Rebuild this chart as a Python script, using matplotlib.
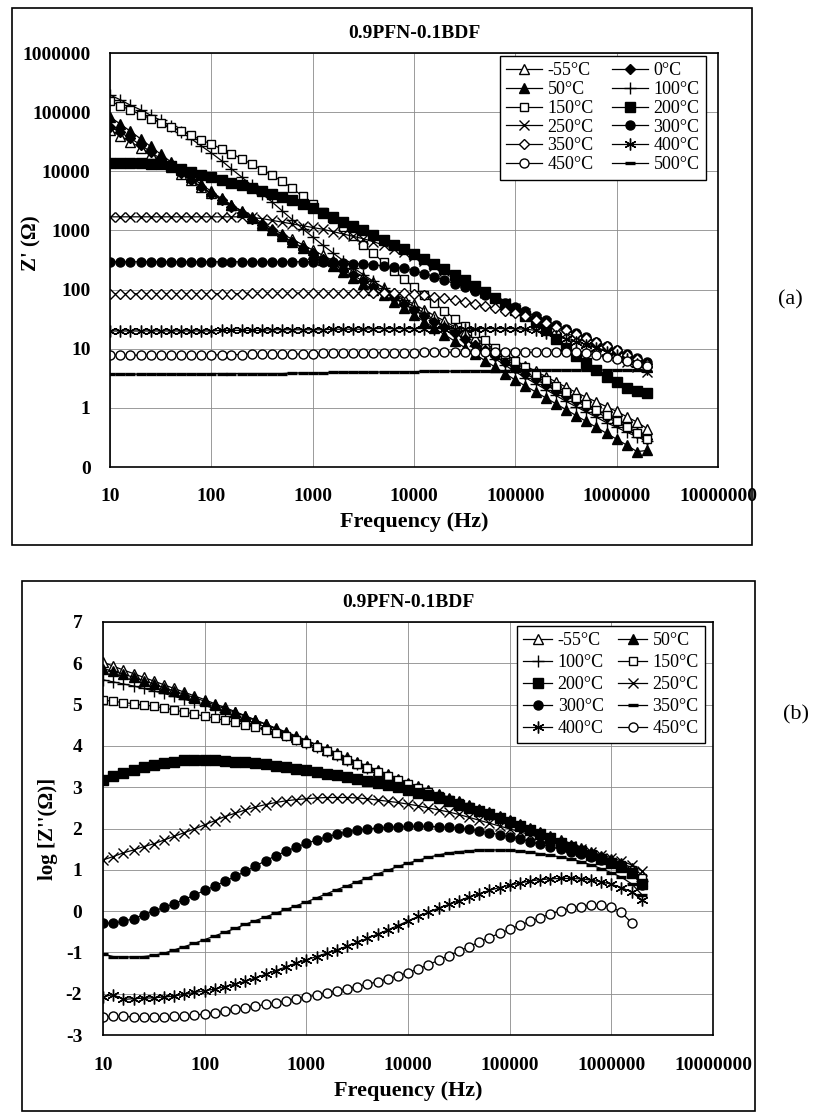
import numpy as np
import matplotlib
matplotlib.use("Agg")
import matplotlib.pyplot as plt
from matplotlib.patches import Rectangle
from matplotlib.ticker import NullLocator

plt.rcParams['font.family'] = ['Liberation Serif', 'DejaVu Serif']
plt.rcParams['axes.unicode_minus'] = False

# measurement frequencies (Hz)
freq_hz = [10, 12.6, 15.8, 20, 25.1, 31.6, 39.8, 50.1, 63.1, 79.4,
           100, 126, 158, 200, 251, 316, 398, 501, 631, 794,
           1000, 1259, 1585, 1995, 2512, 3162, 3981, 5012, 6310, 7943,
           10000, 12589, 15849, 19953, 25119, 31623, 39811, 50119, 63096, 79433,
           100000, 125893, 158489, 199526, 251189, 316228, 398107, 501187, 630957, 794328,
           1000000, 1258925, 1584893, 1995262]

# (a) log10 Z' (ohm)
re_m55 = [4.70, 4.60, 4.50, 4.40, 4.29, 4.18, 4.07, 3.96, 3.85, 3.74,
          3.63, 3.53, 3.43, 3.33, 3.23, 3.13, 3.03, 2.94, 2.85, 2.76,
          2.67, 2.58, 2.49, 2.40, 2.31, 2.22, 2.12, 2.03, 1.94, 1.85,
          1.75, 1.66, 1.56, 1.47, 1.37, 1.28, 1.18, 1.09, 0.99, 0.90,
          0.80, 0.71, 0.62, 0.53, 0.44, 0.35, 0.26, 0.18, 0.10, 0.02,
          -0.06, -0.15, -0.24, -0.35]
re_0 = [4.75, 4.66, 4.56, 4.45, 4.33, 4.21, 4.09, 3.97, 3.85, 3.73,
        3.62, 3.51, 3.40, 3.30, 3.20, 3.10, 3.00, 2.90, 2.81, 2.71,
        2.62, 2.52, 2.43, 2.33, 2.24, 2.14, 2.05, 1.95, 1.86, 1.76,
        1.66, 1.56, 1.46, 1.37, 1.27, 1.17, 1.07, 0.97, 0.87, 0.78,
        0.68, 0.58, 0.48, 0.39, 0.29, 0.20, 0.11, 0.02, -0.07, -0.16,
        -0.24, -0.33, -0.43, -0.52]
re_50 = [4.92, 4.80, 4.68, 4.55, 4.42, 4.29, 4.16, 4.03, 3.90, 3.78,
         3.66, 3.54, 3.43, 3.32, 3.21, 3.10, 3.00, 2.90, 2.80, 2.70,
         2.60, 2.50, 2.40, 2.30, 2.20, 2.10, 2.00, 1.90, 1.79, 1.68,
         1.57, 1.46, 1.35, 1.24, 1.13, 1.02, 0.91, 0.80, 0.69, 0.58,
         0.47, 0.37, 0.27, 0.17, 0.07, -0.03, -0.13, -0.23, -0.33, -0.43,
         -0.53, -0.63, -0.74, -0.72]
re_100 = [5.29, 5.21, 5.12, 5.04, 4.95, 4.86, 4.77, 4.67, 4.55, 4.43,
          4.31, 4.18, 4.04, 3.90, 3.76, 3.62, 3.48, 3.33, 3.18, 3.03,
          2.89, 2.75, 2.62, 2.49, 2.37, 2.25, 2.14, 2.03, 1.92, 1.82,
          1.71, 1.60, 1.49, 1.38, 1.27, 1.16, 1.05, 0.94, 0.83, 0.72,
          0.61, 0.51, 0.41, 0.31, 0.21, 0.11, 0.02, -0.07, -0.16, -0.25,
          -0.33, -0.41, -0.49, -0.56]
re_150 = [5.19, 5.11, 5.04, 4.96, 4.89, 4.82, 4.75, 4.68, 4.61, 4.53,
          4.46, 4.38, 4.30, 4.21, 4.12, 4.03, 3.93, 3.83, 3.71, 3.58,
          3.45, 3.32, 3.19, 3.05, 2.91, 2.76, 2.61, 2.46, 2.32, 2.18,
          2.04, 1.90, 1.77, 1.64, 1.51, 1.38, 1.26, 1.14, 1.02, 0.91,
          0.80, 0.69, 0.58, 0.47, 0.37, 0.27, 0.17, 0.07, -0.03, -0.12,
          -0.22, -0.32, -0.42, -0.52]
re_200 = [4.14, 4.14, 4.14, 4.14, 4.13, 4.12, 4.09, 4.04, 3.99, 3.94,
          3.90, 3.86, 3.81, 3.77, 3.72, 3.67, 3.62, 3.57, 3.52, 3.45,
          3.38, 3.30, 3.22, 3.15, 3.07, 3.00, 2.92, 2.84, 2.76, 2.68,
          2.60, 2.52, 2.43, 2.34, 2.25, 2.16, 2.06, 1.96, 1.86, 1.76,
          1.66, 1.56, 1.45, 1.31, 1.17, 1.02, 0.88, 0.76, 0.64, 0.53,
          0.43, 0.34, 0.28, 0.25]
re_250 = [3.23, 3.23, 3.23, 3.23, 3.23, 3.23, 3.23, 3.23, 3.23, 3.23,
          3.23, 3.23, 3.23, 3.23, 3.22, 3.20, 3.17, 3.14, 3.11, 3.08,
          3.05, 3.02, 2.98, 2.94, 2.90, 2.86, 2.81, 2.75, 2.69, 2.63,
          2.56, 2.48, 2.40, 2.31, 2.22, 2.13, 2.04, 1.95, 1.86, 1.77,
          1.68, 1.60, 1.51, 1.43, 1.35, 1.27, 1.19, 1.11, 1.03, 0.95,
          0.87, 0.78, 0.69, 0.60]
re_300 = [2.47, 2.47, 2.47, 2.47, 2.47, 2.47, 2.47, 2.47, 2.47, 2.47,
          2.47, 2.47, 2.47, 2.47, 2.47, 2.47, 2.47, 2.47, 2.47, 2.47,
          2.47, 2.46, 2.46, 2.45, 2.44, 2.43, 2.42, 2.40, 2.38, 2.36,
          2.32, 2.27, 2.22, 2.16, 2.10, 2.04, 1.97, 1.91, 1.84, 1.77,
          1.70, 1.63, 1.55, 1.48, 1.40, 1.33, 1.26, 1.19, 1.12, 1.05,
          0.98, 0.91, 0.84, 0.77]
re_350 = [1.93, 1.93, 1.93, 1.93, 1.93, 1.93, 1.93, 1.93, 1.93, 1.93,
          1.93, 1.93, 1.93, 1.93, 1.94, 1.94, 1.94, 1.94, 1.94, 1.94,
          1.94, 1.94, 1.94, 1.94, 1.95, 1.95, 1.95, 1.95, 1.95, 1.94,
          1.92, 1.90, 1.88, 1.85, 1.82, 1.79, 1.76, 1.72, 1.68, 1.64,
          1.60, 1.55, 1.49, 1.43, 1.37, 1.31, 1.25, 1.18, 1.11, 1.04,
          0.97, 0.90, 0.82, 0.74]
re_400 = [1.30, 1.30, 1.30, 1.30, 1.30, 1.30, 1.30, 1.30, 1.30, 1.30,
          1.30, 1.31, 1.31, 1.31, 1.31, 1.31, 1.32, 1.32, 1.32, 1.32,
          1.32, 1.32, 1.33, 1.33, 1.33, 1.33, 1.34, 1.34, 1.34, 1.34,
          1.34, 1.34, 1.34, 1.34, 1.34, 1.34, 1.34, 1.34, 1.34, 1.34,
          1.34, 1.33, 1.31, 1.27, 1.22, 1.17, 1.12, 1.07, 1.01, 0.95,
          0.89, 0.82, 0.74, 0.66]
re_450 = [0.89, 0.89, 0.89, 0.89, 0.89, 0.89, 0.89, 0.89, 0.89, 0.89,
          0.89, 0.90, 0.90, 0.90, 0.91, 0.91, 0.91, 0.91, 0.91, 0.91,
          0.91, 0.92, 0.92, 0.92, 0.92, 0.92, 0.93, 0.93, 0.93, 0.93,
          0.93, 0.94, 0.94, 0.94, 0.94, 0.94, 0.94, 0.94, 0.94, 0.94,
          0.94, 0.94, 0.94, 0.94, 0.94, 0.94, 0.94, 0.92, 0.89, 0.86,
          0.83, 0.79, 0.75, 0.70]
re_500 = [0.57, 0.57, 0.57, 0.57, 0.57, 0.57, 0.57, 0.57, 0.57, 0.57,
          0.58, 0.58, 0.58, 0.58, 0.58, 0.58, 0.58, 0.58, 0.59, 0.59,
          0.59, 0.59, 0.60, 0.60, 0.60, 0.60, 0.60, 0.61, 0.61, 0.61,
          0.61, 0.62, 0.62, 0.62, 0.62, 0.63, 0.63, 0.63, 0.63, 0.63,
          0.64, 0.64, 0.64, 0.64, 0.64, 0.64, 0.64, 0.64, 0.64, 0.64,
          0.64, 0.64, 0.64, 0.63]

# (b) log |Z''|
im_m55 = [6.03, 5.93, 5.84, 5.75, 5.66, 5.57, 5.48, 5.39, 5.30, 5.21,
          5.12, 5.02, 4.93, 4.83, 4.73, 4.63, 4.53, 4.43, 4.34, 4.24,
          4.14, 4.03, 3.93, 3.83, 3.72, 3.61, 3.51, 3.41, 3.31, 3.21,
          3.11, 3.02, 2.93, 2.84, 2.75, 2.66, 2.57, 2.48, 2.39, 2.30,
          2.21, 2.11, 2.01, 1.91, 1.81, 1.71, 1.61, 1.52, 1.43, 1.34,
          1.25, 1.16, 1.05, 0.88]
im_50 = [5.87, 5.81, 5.74, 5.66, 5.58, 5.50, 5.41, 5.33, 5.25, 5.17,
         5.08, 4.99, 4.90, 4.81, 4.72, 4.62, 4.52, 4.42, 4.32, 4.22,
         4.12, 4.02, 3.91, 3.80, 3.69, 3.58, 3.48, 3.38, 3.28, 3.18,
         3.08, 2.99, 2.90, 2.81, 2.72, 2.63, 2.54, 2.45, 2.36, 2.27,
         2.18, 2.08, 1.98, 1.88, 1.78, 1.68, 1.58, 1.48, 1.39, 1.30,
         1.21, 1.11, 0.99, 0.72]
im_100 = [5.60, 5.55, 5.50, 5.45, 5.39, 5.33, 5.27, 5.20, 5.13, 5.06,
          4.98, 4.90, 4.82, 4.73, 4.64, 4.55, 4.46, 4.37, 4.27, 4.17,
          4.07, 3.97, 3.87, 3.77, 3.66, 3.56, 3.46, 3.36, 3.26, 3.16,
          3.06, 2.96, 2.87, 2.78, 2.69, 2.60, 2.51, 2.42, 2.33, 2.24,
          2.15, 2.05, 1.95, 1.85, 1.75, 1.65, 1.55, 1.46, 1.37, 1.28,
          1.19, 1.09, 0.96, 0.74]
im_150 = [5.11, 5.08, 5.05, 5.02, 4.99, 4.96, 4.92, 4.87, 4.82, 4.77,
          4.72, 4.67, 4.62, 4.57, 4.51, 4.45, 4.38, 4.31, 4.23, 4.15,
          4.06, 3.97, 3.87, 3.77, 3.67, 3.57, 3.47, 3.37, 3.27, 3.17,
          3.07, 2.97, 2.88, 2.79, 2.70, 2.61, 2.52, 2.43, 2.34, 2.25,
          2.16, 2.06, 1.96, 1.86, 1.76, 1.66, 1.56, 1.47, 1.38, 1.29,
          1.20, 1.11, 0.99, 0.80]
im_200 = [3.17, 3.26, 3.34, 3.42, 3.49, 3.54, 3.58, 3.62, 3.65, 3.66,
          3.66, 3.65, 3.63, 3.62, 3.60, 3.58, 3.55, 3.52, 3.49, 3.45,
          3.41, 3.37, 3.33, 3.29, 3.25, 3.21, 3.16, 3.11, 3.06, 3.00,
          2.94, 2.87, 2.80, 2.73, 2.66, 2.58, 2.50, 2.42, 2.34, 2.25,
          2.16, 2.06, 1.96, 1.86, 1.76, 1.66, 1.56, 1.46, 1.37, 1.27,
          1.17, 1.06, 0.92, 0.65]
im_250 = [1.24, 1.32, 1.41, 1.48, 1.56, 1.63, 1.72, 1.81, 1.90, 1.99,
          2.09, 2.19, 2.29, 2.37, 2.45, 2.52, 2.58, 2.63, 2.67, 2.70,
          2.72, 2.74, 2.75, 2.75, 2.75, 2.74, 2.72, 2.69, 2.66, 2.63,
          2.59, 2.55, 2.50, 2.45, 2.40, 2.34, 2.27, 2.20, 2.13, 2.06,
          1.99, 1.92, 1.85, 1.78, 1.71, 1.64, 1.57, 1.50, 1.43, 1.36,
          1.29, 1.21, 1.12, 0.98]
im_300 = [-0.29, -0.29, -0.25, -0.18, -0.09, 0.00, 0.09, 0.18, 0.28, 0.39,
          0.50, 0.61, 0.72, 0.84, 0.96, 1.09, 1.22, 1.34, 1.45, 1.55,
          1.64, 1.72, 1.80, 1.86, 1.92, 1.96, 1.99, 2.01, 2.03, 2.04,
          2.05, 2.05, 2.05, 2.04, 2.03, 2.01, 1.98, 1.94, 1.90, 1.85,
          1.80, 1.74, 1.68, 1.62, 1.56, 1.50, 1.44, 1.38, 1.31, 1.24,
          1.16, 1.06, 0.92, 0.64]
im_350 = [-1.04, -1.10, -1.11, -1.11, -1.10, -1.07, -1.02, -0.94, -0.86, -0.78,
          -0.69, -0.60, -0.51, -0.42, -0.32, -0.23, -0.14, -0.05, 0.04, 0.13,
          0.22, 0.32, 0.42, 0.52, 0.61, 0.71, 0.80, 0.90, 0.99, 1.08,
          1.16, 1.23, 1.30, 1.36, 1.41, 1.44, 1.46, 1.48, 1.48, 1.48,
          1.47, 1.45, 1.42, 1.39, 1.35, 1.31, 1.26, 1.20, 1.12, 1.03,
          0.93, 0.82, 0.66, 0.40]
im_400 = [-2.08, -2.02, -2.14, -2.12, -2.11, -2.10, -2.08, -2.06, -2.01, -1.97,
          -1.93, -1.89, -1.83, -1.77, -1.70, -1.62, -1.53, -1.44, -1.35, -1.26,
          -1.18, -1.10, -1.02, -0.94, -0.85, -0.76, -0.66, -0.56, -0.46, -0.35,
          -0.24, -0.13, -0.03, 0.07, 0.16, 0.25, 0.34, 0.42, 0.50, 0.57,
          0.63, 0.68, 0.73, 0.76, 0.78, 0.79, 0.79, 0.78, 0.75, 0.71,
          0.65, 0.57, 0.46, 0.27]
im_450 = [-2.56, -2.55, -2.55, -2.56, -2.56, -2.56, -2.56, -2.55, -2.54, -2.52,
          -2.49, -2.46, -2.42, -2.38, -2.34, -2.30, -2.26, -2.22, -2.17, -2.12,
          -2.08, -2.03, -1.98, -1.93, -1.88, -1.83, -1.77, -1.71, -1.64, -1.57,
          -1.49, -1.40, -1.30, -1.19, -1.08, -0.97, -0.86, -0.75, -0.64, -0.54,
          -0.44, -0.34, -0.25, -0.16, -0.07, 0.01, 0.07, 0.11, 0.14, 0.14,
          0.10, -0.03, -0.29, np.nan]

x_ticks = [10, 100, 1000, 10000, 100000, 1000000, 10000000]
x_labels = ['10', '100', '1000', '10000', '100000', '1000000', '10000000']
ya_ticks = [0.1, 1, 10, 100, 1000, 10000, 100000, 1000000]
ya_labels = ['0', '1', '10', '100', '1000', '10000', '100000', '1000000']
yb_ticks = [-3, -2, -1, 0, 1, 2, 3, 4, 5, 6, 7]

ASTER = (6, 2, 0)
# label -> (marker, filled, size)
styles = {
    '-55°C': ('^', False, 7),
    '0°C': ('D', True, 5),
    '50°C': ('^', True, 7),
    '100°C': ('+', True, 8.5),
    '150°C': ('s', False, 6),
    '200°C': ('s', True, 6.5),
    '250°C': ('x', True, 7),
    '300°C': ('o', True, 6.5),
    '350°C': ('D', False, 5.5),
    '400°C': (ASTER, True, 8.5),
    '450°C': ('o', False, 6.5),
    '500°C': ('_', True, 7.5),
}

series_a = [('-55°C', re_m55), ('0°C', re_0), ('50°C', re_50), ('100°C', re_100),
            ('150°C', re_150), ('200°C', re_200), ('250°C', re_250), ('300°C', re_300),
            ('350°C', re_350), ('400°C', re_400), ('450°C', re_450), ('500°C', re_500)]
series_b = [('-55°C', im_m55), ('50°C', im_50), ('100°C', im_100), ('150°C', im_150),
            ('200°C', im_200), ('250°C', im_250), ('300°C', im_300), ('350°C', im_350),
            ('400°C', im_400), ('450°C', im_450)]


def draw(ax, series, log_y, override=None):
    handles = {}
    for label, vals in series:
        m, filled, ms = styles[label]
        if override and label in override:
            m, filled, ms = override[label]
        y = np.power(10.0, vals) if log_y else np.array(vals)
        mew = 2.4 if m == '_' else 1.0
        h, = ax.plot(freq_hz, y, color='black', lw=0.9, marker=m, markersize=ms,
                     markerfacecolor='black' if filled else 'white',
                     markeredgecolor='black', markeredgewidth=mew, label=label)
        handles[label] = h
    ax.set_xscale('log')
    ax.set_xlim(10, 1e7)
    ax.set_xticks(x_ticks, x_labels)
    ax.xaxis.set_minor_locator(NullLocator())
    ax.grid(True, which='major', color='#8a8a8a', lw=0.6)
    ax.tick_params(length=0, labelsize=14)
    for t in ax.get_xticklabels() + ax.get_yticklabels():
        t.set_fontweight('bold')
    for s in ax.spines.values():
        s.set_linewidth(1.2)
    ax.set_xlabel('Frequency (Hz)', fontsize=16, fontweight='bold', labelpad=5)
    return handles


def legend(ax, handles, order, anchor, hlen, lspace, cspace):
    hs = [handles[k] for k in order]
    leg = ax.legend(hs, order, ncol=2, loc='upper right', bbox_to_anchor=anchor,
                    fontsize=13, frameon=True, fancybox=False, edgecolor='black',
                    framealpha=1, labelspacing=lspace, handlelength=hlen,
                    handletextpad=0.3, columnspacing=cspace, borderpad=0.35,
                    borderaxespad=0)
    leg.get_frame().set_linewidth(1.0)


fig = plt.figure(figsize=(8.15, 11.13), dpi=100)

# panel (a)
ax1 = fig.add_axes([110 / 815, 1 - 467 / 1113, 608 / 815, 414 / 1113])
h1 = draw(ax1, series_a, True)
ax1.set_yscale('log')
ax1.set_ylim(0.1, 1e6)
ax1.set_yticks(ya_ticks, ya_labels)
ax1.yaxis.set_minor_locator(NullLocator())
for t in ax1.get_yticklabels():
    t.set_fontweight('bold')
ax1.tick_params(axis='y', pad=14)
ax1.tick_params(axis='x', pad=15)
ax1.set_ylabel("Z' (Ω)", fontsize=15, fontweight='bold')
ax1.yaxis.set_label_coords(-0.112, 0.54)
ax1.set_title('0.9PFN-0.1BDF', fontsize=14, fontweight='bold', pad=11)
legend(ax1, h1, ['-55°C', '50°C', '150°C', '250°C', '350°C', '450°C',
                 '0°C', '100°C', '200°C', '300°C', '400°C', '500°C'],
       (0.98, 0.993), 2.0, 0.1, 1.0)

# panel (b)
ax2 = fig.add_axes([103 / 815, 1 - 1035 / 1113, 610 / 815, 413 / 1113])
h2 = draw(ax2, series_b, False, override={'350°C': ('_', True, 7.5)})
ax2.set_ylim(-3, 7)
ax2.set_yticks(yb_ticks)
ax2.yaxis.set_minor_locator(NullLocator())
for t in ax2.get_yticklabels():
    t.set_fontweight('bold')
ax2.tick_params(axis='y', pad=15)
ax2.tick_params(axis='x', pad=16)
ax2.set_ylabel("log [Z''(Ω)]", fontsize=15, fontweight='bold')
ax2.yaxis.set_label_coords(-0.074, 0.5)
ax2.set_title('0.9PFN-0.1BDF', fontsize=14, fontweight='bold', pad=11)
legend(ax2, h2, ['-55°C', '100°C', '200°C', '300°C', '400°C',
                 '50°C', '150°C', '250°C', '350°C', '450°C'],
       (0.987, 0.99), 1.6, 0.27, 0.8)

# outer frames and panel letters
fig.add_artist(Rectangle((12 / 815, 1 - 545 / 1113), 740 / 815, 537 / 1113,
                         transform=fig.transFigure, fill=False, lw=1.2, color='black'))
fig.add_artist(Rectangle((22 / 815, 1 - 1111 / 1113), 733 / 815, 530 / 1113,
                         transform=fig.transFigure, fill=False, lw=1.2, color='black'))
fig.text(790 / 815, 1 - 300 / 1113, '(a)', fontsize=16, ha='center', va='center')
fig.text(796 / 815, 1 - 715 / 1113, '(b)', fontsize=16, ha='center', va='center')

fig.savefig('out.png', dpi=100)
